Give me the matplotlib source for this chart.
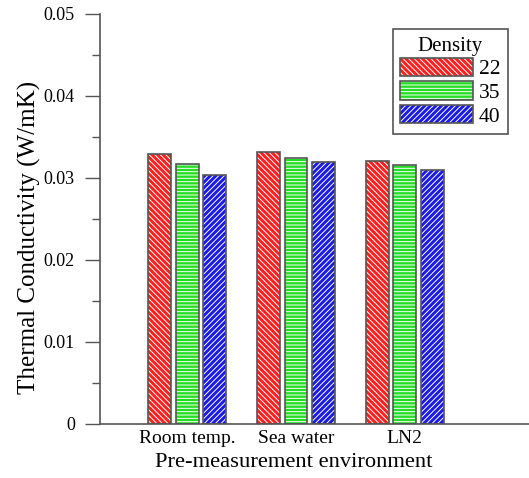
import matplotlib.pyplot as plt
import matplotlib.patches as mpatches
from matplotlib.legend_handler import HandlerTuple
import numpy as np

plt.rcParams['font.family'] = ['Liberation Serif', 'DejaVu Serif']
plt.rcParams['hatch.linewidth'] = 0.7

# data
environments = ['Room temp.', 'Sea water', 'LN2']
densities = ['22', '35', '40']
k_22 = [0.0329, 0.0332, 0.0321]
k_35 = [0.0317, 0.0324, 0.0316]
k_40 = [0.0304, 0.0319, 0.0310]

colors = ['#ff1f1f', '#22dd22', '#1a1ae6']
hatches = ['\\' * 6, '-' * 5, '/' * 6]
edge = '#555555'

fig = plt.figure(figsize=(5.29, 4.78), dpi=100)
ax = fig.add_axes([0.189, 0.113, 0.811, 0.858])

index = np.arange(1, len(environments) + 1)
bar_width = 0.21
step = 0.25

for i, vals in enumerate([k_22, k_35, k_40]):
    pos = index + (i - 1) * step
    # colored fill with white hatch lines
    ax.bar(pos, vals, bar_width, color=colors[i], edgecolor='white',
           hatch=hatches[i], linewidth=0, zorder=2)
    # grey outline on top
    ax.bar(pos, vals, bar_width, facecolor='none', edgecolor=edge,
           linewidth=1.2, zorder=3)

ax.set_xlim(0.2, 4.14)
ax.set_ylim(0, 0.05)
ax.set_xticks(index)
ax.set_xticklabels(environments, fontsize=14)
ax.tick_params(axis='x', length=0, pad=4)

ax.set_yticks([0, 0.01, 0.02, 0.03, 0.04, 0.05])
ax.set_yticklabels(['0', '0.01', '0.02', '0.03', '0.04', '0.05'], fontsize=13)
ax.set_yticks(np.arange(0.005, 0.05, 0.01), minor=True)
ax.tick_params(axis='y', which='major', direction='out', length=11,
               width=1, color=edge, pad=7)
ax.tick_params(axis='y', which='minor', direction='out', length=6,
               width=1, color=edge)

for s in ['top', 'right']:
    ax.spines[s].set_visible(False)
for s in ['left', 'bottom']:
    ax.spines[s].set_color(edge)
    ax.spines[s].set_linewidth(1.2)

ax.set_ylabel('Thermal Conductivity (W/mK)', fontsize=18)
ax.yaxis.set_label_coords(-0.137, 0.456)
ax.set_xlabel('Pre-measurement environment', fontsize=16.2)
ax.xaxis.set_label_coords(0.452, -0.071)

# legend keys: hatched fill plus grey outline, drawn on top of each other
handles = []
for c, h in zip(colors, hatches):
    fill = mpatches.Patch(facecolor=c, edgecolor='white', hatch=h, linewidth=0)
    outline = mpatches.Patch(facecolor='none', edgecolor=edge, linewidth=1.2)
    handles.append((fill, outline))
leg = ax.legend(handles, densities, title='Density', loc='upper right',
                bbox_to_anchor=(0.951, 0.963), borderaxespad=0,
                handler_map={tuple: HandlerTuple(ndivide=1, pad=0)},
                fontsize=15.5, title_fontsize=15, handlelength=3.4,
                handleheight=0.92, labelspacing=0.1, handletextpad=0.25,
                borderpad=0.35, fancybox=False, framealpha=1, edgecolor=edge)
leg.get_frame().set_linewidth(1.2)

fig.savefig('out.png', dpi=100)
